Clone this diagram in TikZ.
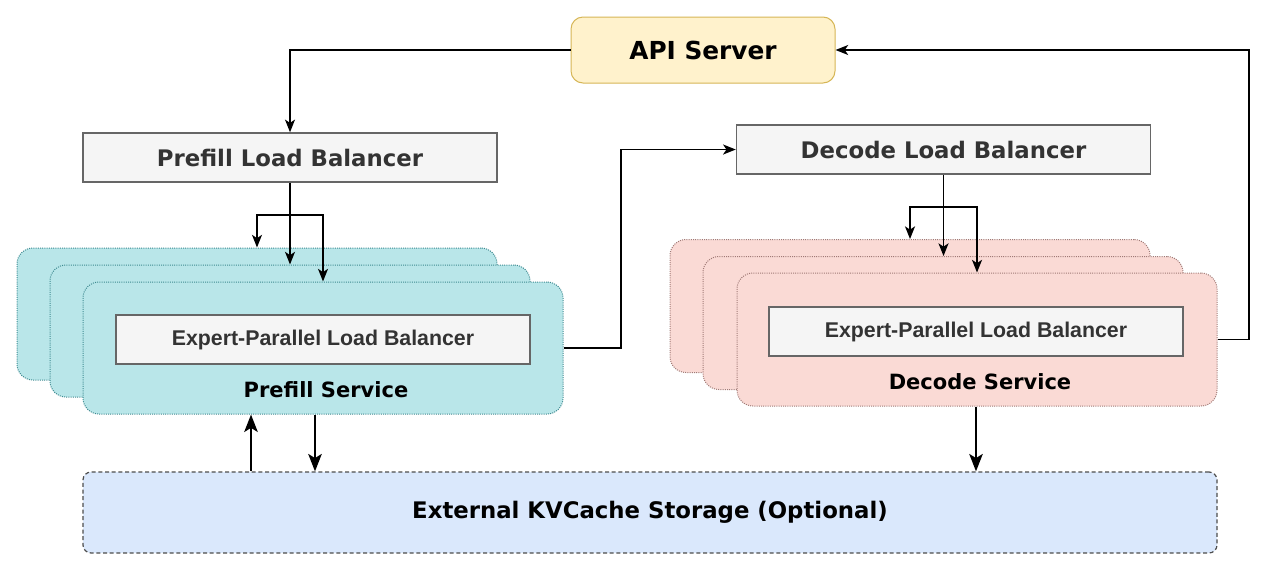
\documentclass[tikz,border=0pt]{standalone}
\usepackage{fontspec}
\setmainfont{DejaVu Sans}
\newfontfamily\arialbold{Liberation Sans}[BoldFont={Liberation Sans Bold}]
\usetikzlibrary{arrows.meta,calc}
\definecolor{apifill}{HTML}{FFF2CC}
\definecolor{apidraw}{HTML}{D6B656}
\definecolor{lbfill}{HTML}{F5F5F5}
\definecolor{lbdraw}{HTML}{666666}
\definecolor{lbtext}{HTML}{333333}
\definecolor{pfill}{HTML}{B9E6E9}
\definecolor{pdraw}{HTML}{3E8A90}
\definecolor{dfill}{HTML}{FADAD5}
\definecolor{ddraw}{HTML}{A07A76}
\definecolor{kvfill}{HTML}{DAE8FC}
\definecolor{kvdraw}{HTML}{4D4D4D}
\tikzset{
  apibox/.style={draw=apidraw, fill=apifill, rounded corners=9pt, line width=0.75pt,
    minimum width=264*0.75pt, minimum height=66*0.75pt, inner sep=0pt,
    font=\fontsize{18.6pt}{21pt}\selectfont\bfseries},
  lbbox/.style={draw=lbdraw, fill=lbfill, line width=1.1pt, text=lbtext,
    minimum width=414*0.75pt, minimum height=49*0.75pt, inner sep=0pt,
    font=\fontsize{17.1pt}{20pt}\selectfont\bfseries},
  eplb/.style={draw=lbdraw, fill=lbfill, line width=1.1pt, text=lbtext,
    minimum width=414*0.75pt, minimum height=49*0.75pt, inner sep=0pt,
    font=\arialbold\fontsize{16pt}{19pt}\selectfont\bfseries},
  pserv/.style={draw=pdraw, fill=pfill, rounded corners=12pt, line width=0.75pt,
    dash pattern=on 0.75pt off 0.9pt,
    minimum width=480*0.75pt, minimum height=132*0.75pt, inner sep=0pt},
  dserv/.style={draw=ddraw, fill=dfill, rounded corners=12pt, line width=0.75pt,
    dash pattern=on 0.75pt off 0.9pt,
    minimum width=480*0.75pt, minimum height=133*0.75pt, inner sep=0pt},
  kvbox/.style={draw=kvdraw, fill=kvfill, rounded corners=6pt, line width=0.9pt,
    dash pattern=on 3pt off 2pt,
    minimum width=1134*0.75pt, minimum height=81*0.75pt, inner sep=0pt,
    font=\fontsize{17.1pt}{20pt}\selectfont\bfseries},
  svclabel/.style={inner sep=0pt, font=\fontsize{15.75pt}{18pt}\selectfont\bfseries},
  conn/.style={draw=black, line width=1.2pt, -{Stealth[length=9.5pt,width=7.5pt,inset=2.5pt]}},
  thickconn/.style={draw=black, line width=2.1pt, -{Stealth[length=13pt,width=10pt,inset=3pt]}},
}
\begin{document}
\begin{tikzpicture}[x=0.75pt,y=-0.75pt]
\useasboundingbox (0,0) rectangle (1280,572);
\fill[white] (0,0) rectangle (1280,572);

% nodes
\node[apibox] (api) at (703,50) {API Server};
\node[lbbox] (plb) at (290,157.5) {Prefill Load Balancer};
\node[lbbox] (dlb) at (943.5,149.5) {Decode Load Balancer};

\node[pserv] (ps1) at (257,314) {};
\node[pserv] (ps2) at (290,331) {};
\node[pserv] (ps3) at (323,348) {};
\node[eplb] (peplb) at (323,339.5) {Expert-Parallel Load Balancer};
\node[svclabel] (plabel) at (326,390) {Prefill Service};

\node[dserv] (ds1) at (910,306) {};
\node[dserv] (ds2) at (943,323) {};
\node[dserv] (ds3) at (977,339.5) {};
\node[eplb] (deplb) at (976,331.5) {Expert-Parallel Load Balancer};
\node[svclabel] (dlabel) at (980,382) {Decode Service};

\node[kvbox] (kv) at (650,512.5) {External KVCache Storage (Optional)};

% helper coordinates
\coordinate (pbr) at (290,215);
\coordinate (dbr) at (943.5,207);
\coordinate (pd) at (621,0);
\coordinate (ad) at (1249,0);
\coordinate (kup) at (251,0);
\coordinate (kdn) at (315,0);
\coordinate (ddn) at (976,0);

% connectors
\draw[conn] (api.west) -| (plb.north);
\draw[conn] (plb.south) -- (ps2.north);
\draw[conn] (pbr) -| (ps1.north);
\draw[conn] (pbr) -| (ps3.north);

\draw[conn] (dlb.south) -- (ds2.north -| dlb.south);
\draw[conn] (dbr) -| (ds1.north);
\draw[conn] (dbr) -| (ds3.north);

\draw[conn] (ps3.east) -- (ps3.east -| pd) |- (dlb.west);
\draw[conn] (ds3.east) -- (ds3.east -| ad) |- (api.east);

\draw[thickconn] (kv.north -| kup) -- (ps3.south -| kup);
\draw[thickconn] (ps3.south -| kdn) -- (kv.north -| kdn);
\draw[thickconn] (ds3.south -| ddn) -- (kv.north -| ddn);
\end{tikzpicture}
\end{document}
